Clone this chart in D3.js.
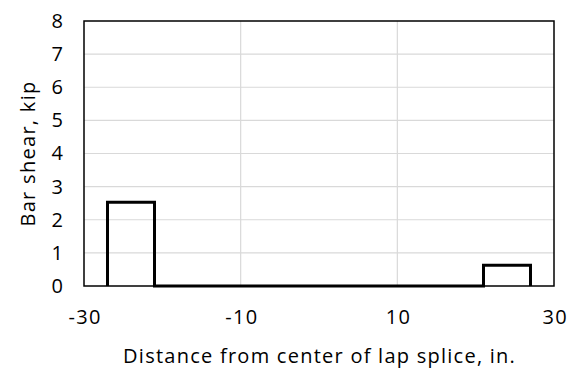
<!DOCTYPE html>
<html><head><meta charset="utf-8">
<script src="https://cdn.jsdelivr.net/npm/d3@7"></script>
<style>body{margin:0;background:#fff}svg{display:block}svg text{font-family:"Open Sans","Noto Sans",sans-serif;fill:#000}</style>
</head><body>
<script>
const xValues = [-27, -27, -21, -21, 21, 21, 27, 27];
const shearValues = [0, 2.53, 2.53, 0, 0, 0.63, 0.63, 0];
const xTicks = [-30, -10, 10, 30];
const yTicks = [0, 1, 2, 3, 4, 5, 6, 7, 8];
const xTitle = "Distance from center of lap splice, in.";
const yTitle = "Bar shear, kip";

const W = 575, H = 371;
const m = {left: 84, right: 21, top: 21, bottom: 85};
const svg = d3.select("body").append("svg").attr("width", W).attr("height", H);
const x = d3.scaleLinear().domain([-30, 30]).range([m.left, W - m.right]);
const y = d3.scaleLinear().domain([0, 8]).range([H - m.bottom, m.top]);

// gridlines
svg.append("g").selectAll("line").data(yTicks.slice(1, -1)).join("line")
  .attr("x1", x(-30)).attr("x2", x(30)).attr("y1", d => y(d)).attr("y2", d => y(d))
  .attr("stroke", "#d9d9d9").attr("stroke-width", 1.2);
svg.append("g").selectAll("line").data(xTicks.slice(1, -1)).join("line")
  .attr("y1", y(0)).attr("y2", y(8)).attr("x1", d => x(d)).attr("x2", d => x(d))
  .attr("stroke", "#d9d9d9").attr("stroke-width", 1.2);

// axes via d3 axis
const xa = svg.append("g").attr("transform", `translate(0,${y(0)})`)
  .call(d3.axisBottom(x).tickValues(xTicks).tickSize(0).tickPadding(24).tickFormat(d => String(d)));
xa.select(".domain").remove();
xa.attr("font-size", null).attr("font-family", null);
xa.selectAll("text").style("font-size", "20px").style("letter-spacing", "1.3px").attr("dx", "0.65px");
const ya = svg.append("g").attr("transform", `translate(${x(-30)},0)`)
  .call(d3.axisLeft(y).tickValues(yTicks).tickSize(0).tickPadding(21).tickFormat(d => String(d)));
ya.select(".domain").remove();
ya.attr("font-size", null).attr("font-family", null);
ya.selectAll("text").style("font-size", "20px");

// border
svg.append("rect").attr("x", x(-30)).attr("y", y(8))
  .attr("width", x(30) - x(-30)).attr("height", y(0) - y(8))
  .attr("fill", "none").attr("stroke", "#000").attr("stroke-width", 1.5);

// line
const pts = xValues.map((v, i) => [v, shearValues[i]]);
svg.append("path").datum(pts)
  .attr("d", d3.line().x(d => x(d[0])).y(d => y(d[1])))
  .attr("fill", "none").attr("stroke", "#000").attr("stroke-width", 3).attr("stroke-linejoin", "miter");

// titles
svg.append("text").attr("x", (x(-30) + x(30)) / 2 + 0.6).attr("y", 363)
  .attr("text-anchor", "middle").style("font-size", "20px").style("letter-spacing", "1.25px").text(xTitle);
svg.append("text").attr("transform", `translate(35,${(y(0) + y(8)) / 2}) rotate(-90)`)
  .attr("text-anchor", "middle").style("font-size", "20px").style("letter-spacing", "1.3px").text(yTitle);
</script>
</body></html>
